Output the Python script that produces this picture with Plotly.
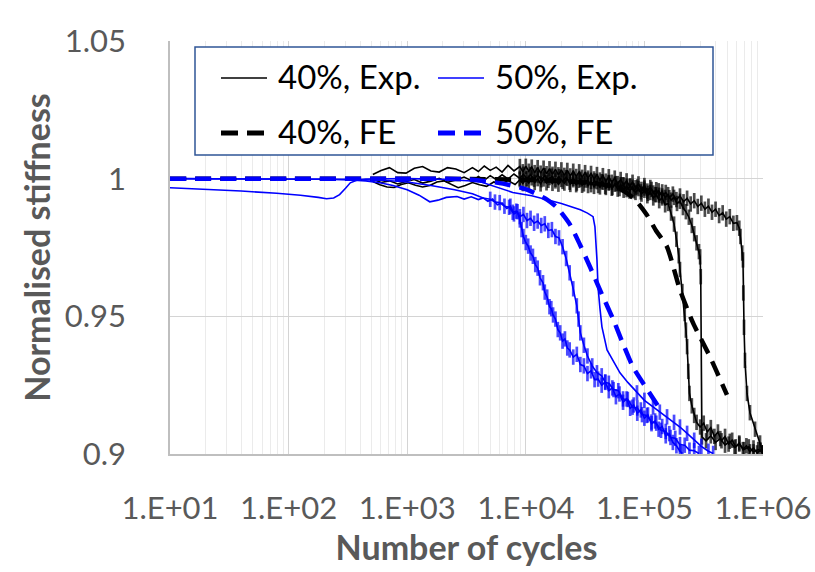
import plotly.graph_objects as go

# ---------------- data (log10 of number of cycles, normalised stiffness) ----------------
# 40% load level, experiments (black)
exp40_a_logn = [2.71, 2.77, 2.83, 2.89, 2.95, 3.01, 3.07, 3.13, 3.19, 3.25, 3.31, 3.37, 3.43, 3.49, 3.55, 3.61,
                3.67, 3.73, 3.79, 3.85, 3.91, 3.95, 3.975, 4.00, 4.025, 4.05, 4.075, 4.10, 4.125, 4.15, 4.175,
                4.20, 4.225, 4.25, 4.275, 4.30, 4.325, 4.35, 4.375, 4.40, 4.425, 4.45, 4.475, 4.50, 4.525, 4.55,
                4.575, 4.60, 4.625, 4.65, 4.675, 4.70, 4.725, 4.75, 4.775, 4.80, 4.825, 4.85, 4.875, 4.90, 4.925,
                4.95, 4.975, 5.00, 5.025, 5.05, 5.075, 5.10, 5.125, 5.15, 5.175, 5.20, 5.225, 5.25, 5.27, 5.29,
                5.30, 5.32, 5.34, 5.35, 5.36, 5.37, 5.38, 5.40, 5.42, 5.44, 5.47, 5.50, 5.53, 5.56, 5.59, 5.62,
                5.65, 5.68, 5.71, 5.74, 5.77, 5.80, 5.83, 5.86, 5.89, 5.92, 5.95, 5.98, 6.00]
exp40_a_val = [0.9990, 0.9978, 0.9970, 0.9968, 0.9979, 0.9985, 0.9976, 0.9970, 0.9975, 0.9988, 0.9992, 0.9980,
               0.9967, 0.9975, 0.9986, 0.9978, 0.9972, 0.9988, 0.9980, 0.9993, 0.9979, 0.9996, 0.9982, 0.9998,
               0.9984, 1.0003, 0.9986, 1.0000, 0.9981, 0.9999, 0.9985, 1.0004, 0.9983, 0.9998, 0.9980, 0.9997,
               0.9984, 1.0001, 0.9979, 0.9996, 0.9978, 0.9994, 0.9976, 0.9995, 0.9975, 0.9990, 0.9972, 0.9989,
               0.9970, 0.9987, 0.9968, 0.9984, 0.9965, 0.9980, 0.9962, 0.9978, 0.9958, 0.9973, 0.9955, 0.9969,
               0.9950, 0.9964, 0.9944, 0.9958, 0.9938, 0.9950, 0.9930, 0.9942, 0.9920, 0.9930, 0.9905, 0.9910,
               0.9875, 0.9835, 0.9780, 0.9720, 0.9670, 0.9590, 0.9510, 0.9450, 0.9390, 0.9300, 0.9220, 0.9175,
               0.9140, 0.9115, 0.9098, 0.9112, 0.9080, 0.9096, 0.9064, 0.9080, 0.9048, 0.9064, 0.9036, 0.9050,
               0.9026, 0.9040, 0.9016, 0.9030, 0.9008, 0.9022, 0.9004, 0.9014, 0.9002]

exp40_b_logn = [2.71, 2.78, 2.85, 2.92, 2.99, 3.06, 3.13, 3.20, 3.27, 3.34, 3.41, 3.48, 3.55, 3.60, 3.65, 3.70,
                3.75, 3.80, 3.85, 3.90, 3.95, 3.975, 4.00, 4.025, 4.05, 4.075, 4.10, 4.125, 4.15, 4.175, 4.20,
                4.225, 4.25, 4.275, 4.30, 4.325, 4.35, 4.375, 4.40, 4.425, 4.45, 4.475, 4.50, 4.525, 4.55, 4.575,
                4.60, 4.625, 4.65, 4.675, 4.70, 4.725, 4.75, 4.775, 4.80, 4.825, 4.85, 4.875, 4.90, 4.925, 4.95,
                4.975, 5.00, 5.025, 5.05, 5.075, 5.10, 5.125, 5.15, 5.175, 5.20, 5.225, 5.25, 5.275, 5.30, 5.325,
                5.35, 5.375, 5.40, 5.42, 5.44, 5.46, 5.47, 5.475, 5.485, 5.52, 5.56, 5.60, 5.64, 5.68, 5.72, 5.76,
                5.80, 5.84, 5.88, 5.92, 5.96, 6.00]
exp40_b_val = [1.0015, 1.0030, 1.0040, 1.0022, 1.0020, 1.0038, 1.0044, 1.0028, 1.0024, 1.0040, 1.0035, 1.0022,
               1.0040, 1.0026, 1.0046, 1.0030, 1.0042, 1.0024, 1.0048, 1.0028, 1.0044, 1.0025, 1.0045, 1.0027,
               1.0042, 1.0022, 1.0040, 1.0020, 1.0038, 1.0018, 1.0036, 1.0016, 1.0034, 1.0014, 1.0032, 1.0012,
               1.0030, 1.0010, 1.0027, 1.0008, 1.0025, 1.0005, 1.0022, 1.0002, 1.0019, 0.9999, 1.0015, 0.9995,
               1.0011, 0.9991, 1.0007, 0.9987, 1.0002, 0.9982, 0.9997, 0.9977, 0.9992, 0.9972, 0.9987, 0.9967,
               0.9981, 0.9961, 0.9975, 0.9955, 0.9968, 0.9948, 0.9960, 0.9940, 0.9952, 0.9932, 0.9942, 0.9922,
               0.9932, 0.9910, 0.9918, 0.9895, 0.9880, 0.9860, 0.9830, 0.9800, 0.9767, 0.9735, 0.9716, 0.9644,
               0.9062, 0.9048, 0.9066, 0.9042, 0.9056, 0.9032, 0.9046, 0.9024, 0.9036, 0.9016, 0.9026, 0.9008,
               0.9016, 0.9005]

exp40_c_logn = [2.71, 2.78, 2.85, 2.92, 2.99, 3.06, 3.13, 3.20, 3.27, 3.34, 3.41, 3.48, 3.55, 3.60, 3.65, 3.70,
                3.75, 3.80, 3.85, 3.90, 3.95, 3.98, 4.01, 4.04, 4.07, 4.10, 4.13, 4.16, 4.19, 4.22, 4.25, 4.28,
                4.31, 4.34, 4.37, 4.40, 4.43, 4.46, 4.49, 4.52, 4.55, 4.58, 4.61, 4.64, 4.67, 4.70, 4.73, 4.76,
                4.79, 4.82, 4.85, 4.88, 4.91, 4.94, 4.97, 5.00, 5.03, 5.06, 5.09, 5.12, 5.15, 5.18, 5.21, 5.24,
                5.27, 5.30, 5.33, 5.36, 5.39, 5.42, 5.45, 5.48, 5.51, 5.54, 5.57, 5.60, 5.63, 5.66, 5.69, 5.72,
                5.75, 5.78, 5.80, 5.81, 5.825, 5.831, 5.834, 5.840, 5.848, 5.865, 5.890, 5.933, 5.975, 6.00]
exp40_c_val = [0.9998, 0.9986, 0.9992, 0.9981, 0.9990, 0.9997, 0.9984, 0.9991, 1.0001, 0.9987, 0.9995, 1.0006,
               0.9991, 1.0008, 0.9994, 1.0011, 0.9997, 1.0014, 0.9999, 1.0017, 1.0001, 1.0016, 1.0000, 1.0015,
               0.9998, 1.0013, 0.9996, 1.0011, 0.9994, 1.0009, 0.9992, 1.0007, 0.9990, 1.0004, 0.9987, 1.0001,
               0.9984, 0.9998, 0.9981, 0.9995, 0.9978, 0.9992, 0.9975, 0.9989, 0.9972, 0.9986, 0.9968, 0.9982,
               0.9964, 0.9978, 0.9960, 0.9974, 0.9956, 0.9970, 0.9952, 0.9966, 0.9947, 0.9961, 0.9942, 0.9956,
               0.9937, 0.9950, 0.9931, 0.9944, 0.9924, 0.9937, 0.9916, 0.9929, 0.9908, 0.9920, 0.9899, 0.9911,
               0.9889, 0.9900, 0.9878, 0.9889, 0.9866, 0.9876, 0.9853, 0.9862, 0.9838, 0.9840, 0.9820, 0.9790,
               0.9730, 0.9705, 0.9585, 0.9460, 0.9340, 0.9220, 0.9150, 0.9090, 0.9040, 0.9005]

# 50% load level, experiments (blue)
exp50_a_logn = [1.00, 1.50, 2.00, 2.30, 2.52, 2.65, 2.77, 2.88, 3.00, 3.10, 3.19, 3.26, 3.33, 3.42, 3.48, 3.54,
                3.60, 3.64, 3.68, 3.72, 3.76, 3.80, 3.84, 3.87, 3.90, 3.93, 3.95, 3.965, 3.98, 4.00, 4.02, 4.04,
                4.06, 4.08, 4.10, 4.12, 4.145, 4.16, 4.18, 4.20, 4.215, 4.23, 4.25, 4.27, 4.29, 4.31, 4.33, 4.35,
                4.37, 4.40, 4.43, 4.46, 4.49, 4.52, 4.55, 4.58, 4.61, 4.64, 4.67, 4.70, 4.73, 4.76, 4.79, 4.82,
                4.85, 4.88, 4.91, 4.94, 4.97, 5.00, 5.03, 5.06, 5.09, 5.12, 5.15, 5.18, 5.21, 5.24, 5.27, 5.30,
                5.32]
exp50_a_val = [1.0000, 1.0000, 1.0000, 0.9998, 0.9995, 0.9992, 0.9985, 0.9975, 0.9960, 0.9940, 0.9916, 0.9922,
               0.9932, 0.9935, 0.9926, 0.9934, 0.9924, 0.9930, 0.9918, 0.9926, 0.9905, 0.9912, 0.9892, 0.9900,
               0.9872, 0.9880, 0.9850, 0.9815, 0.9790, 0.9768, 0.9755, 0.9730, 0.9718, 0.9688, 0.9675, 0.9640,
               0.9622, 0.9588, 0.9570, 0.9535, 0.9528, 0.9505, 0.9490, 0.9452, 0.9440, 0.9410, 0.9418, 0.9385,
               0.9378, 0.9352, 0.9362, 0.9325, 0.9320, 0.9292, 0.9302, 0.9270, 0.9272, 0.9250, 0.9262, 0.9230,
               0.9240, 0.9208, 0.9218, 0.9188, 0.9200, 0.9166, 0.9178, 0.9148, 0.9160, 0.9130, 0.9142, 0.9110,
               0.9120, 0.9090, 0.9100, 0.9066, 0.9074, 0.9042, 0.9030, 0.9010, 0.9002]

exp50_b_logn = [1.00, 2.00, 2.50, 2.80, 3.00, 3.20, 3.40, 3.55, 3.64, 3.70, 3.74, 3.78, 3.82, 3.86, 3.89, 3.92,
                3.95, 3.98, 4.01, 4.04, 4.07, 4.10, 4.13, 4.16, 4.19, 4.22, 4.25, 4.28, 4.31, 4.34, 4.37, 4.40,
                4.43, 4.445, 4.46, 4.49, 4.52, 4.56, 4.60, 4.64, 4.67, 4.70, 4.74, 4.78, 4.82, 4.86, 4.90, 4.94,
                4.98, 5.02, 5.06, 5.10, 5.14, 5.18, 5.22, 5.26, 5.30, 5.34, 5.38, 5.42, 5.46]
exp50_b_val = [1.0000, 1.0000, 0.9998, 0.9994, 0.9988, 0.9975, 0.9960, 0.9945, 0.9930, 0.9925, 0.9915, 0.9913,
               0.9900, 0.9896, 0.9878, 0.9882, 0.9862, 0.9870, 0.9848, 0.9856, 0.9838, 0.9846, 0.9830, 0.9836,
               0.9812, 0.9815, 0.9790, 0.9785, 0.9753, 0.9710, 0.9658, 0.9600, 0.9538, 0.9490, 0.9440, 0.9395,
               0.9356, 0.9320, 0.9295, 0.9284, 0.9260, 0.9257, 0.9234, 0.9230, 0.9200, 0.9198, 0.9170, 0.9167,
               0.9143, 0.9140, 0.9116, 0.9112, 0.9086, 0.9082, 0.9060, 0.9057, 0.9034, 0.9032, 0.9014, 0.9012,
               0.9002]

exp50_c_logn = [1.00, 1.30, 1.60, 1.90, 2.10, 2.25, 2.32, 2.38, 2.43, 2.48, 2.52, 2.58, 2.65, 3.00, 3.30, 3.61,
                3.75, 3.89, 4.05, 4.18, 4.30, 4.46, 4.52, 4.567, 4.583, 4.600, 4.609, 4.625, 4.642, 4.685, 4.74,
                4.794, 4.86, 4.937, 5.00, 5.073, 5.13, 5.191, 5.25, 5.30, 5.36, 5.42, 5.48, 5.54, 5.58]
exp50_c_val = [0.9967, 0.9962, 0.9955, 0.9947, 0.9940, 0.9932, 0.9927, 0.9930, 0.9942, 0.9965, 0.9985, 0.9995,
               0.9999, 1.0000, 0.9998, 0.9990, 0.9970, 0.9950, 0.9938, 0.9924, 0.9910, 0.9887, 0.9875, 0.9862,
               0.9825, 0.9705, 0.9607, 0.9530, 0.9462, 0.9378, 0.9335, 0.9295, 0.9260, 0.9222, 0.9195, 0.9171,
               0.9152, 0.9135, 0.9115, 0.9098, 0.9075, 0.9050, 0.9028, 0.9010, 0.9002]

# finite-element predictions
fe40_logn = [1.0, 2.0, 3.0, 3.5, 4.0, 4.3, 4.6, 4.8, 4.92, 5.02, 5.10, 5.19, 5.30, 5.41, 5.553, 5.696]
fe40_val = [1.0, 1.0, 1.0, 0.9999, 0.9996, 0.9991, 0.9982, 0.9962, 0.9925, 0.9869, 0.9810, 0.9753, 0.9596,
            0.9476, 0.9353, 0.9215]

fe50_logn = [1.0, 2.0, 3.0, 3.5, 3.808, 4.010, 4.179, 4.263, 4.373, 4.457, 4.541, 4.651, 4.735, 4.820, 4.904,
             5.022, 5.131]
fe50_val = [1.0, 1.0, 1.0, 0.9998, 0.9982, 0.9960, 0.9924, 0.9895, 0.9833, 0.9760, 0.9680, 0.9571, 0.9491,
            0.9400, 0.9316, 0.9236, 0.9164]

x_tick_vals = [1e1, 1e2, 1e3, 1e4, 1e5, 1e6]
x_tick_text = ["1.E+01", "1.E+02", "1.E+03", "1.E+04", "1.E+05", "1.E+06"]
y_tick_vals = [0.9, 0.95, 1.0, 1.05]
y_tick_text = ["0.9", "0.95", "1", "1.05"]
legend_labels = ["40%, Exp.", "50%, Exp.", "40%, FE", "50%, FE"]


def cycles(logn):
    return [10 ** v for v in logn]


BLACK = "#000000"
BLUE = "#0000FF"
GREY = "#595959"
FONT = "Lato"
FE_DASH = "16px,9px"

fig = go.Figure()

# (data, colour, log10 N above which the record is dense and drawn with point markers, marker size)
exp_curves = [
    (exp40_a_logn, exp40_a_val, BLACK, 3.95, 11, legend_labels[0]),
    (exp40_b_logn, exp40_b_val, BLACK, 3.95, 11, legend_labels[0]),
    (exp40_c_logn, exp40_c_val, BLACK, 3.95, 11, legend_labels[0]),
    (exp50_a_logn, exp50_a_val, BLUE, 3.85, 11, legend_labels[1]),
    (exp50_b_logn, exp50_b_val, BLUE, 3.70, 11, legend_labels[1]),
    (exp50_c_logn, exp50_c_val, BLUE, 4.90, 11, legend_labels[1]),
]
for lx, vy, col, dense_from, msize, name in exp_curves:
    sizes = [msize if v >= dense_from else 0 for v in lx]
    fig.add_trace(go.Scatter(
        x=cycles(lx), y=vy, mode="lines+markers", name=name, showlegend=False,
        line=dict(color=col, width=1.6),
        marker=dict(symbol="line-ns", size=sizes, color=col, line=dict(color=col, width=2.7)),
    ))

fig.add_trace(go.Scatter(x=cycles(fe40_logn), y=fe40_val, mode="lines", name=legend_labels[2], showlegend=False,
                         line=dict(color=BLACK, width=4.5, dash=FE_DASH, shape="spline", smoothing=0.6)))
fig.add_trace(go.Scatter(x=cycles(fe50_logn), y=fe50_val, mode="lines", name=legend_labels[3], showlegend=False,
                         line=dict(color=BLUE, width=4.5, dash=FE_DASH, shape="spline", smoothing=0.6)))

minor_vals = [k * 10 ** d for d in range(1, 6) for k in range(2, 10)]

# ---- legend box (drawn in paper coordinates, like the boxed legend of the original) ----
PLOT_L, PLOT_R, PLOT_T, PLOT_B = 170, 763, 41, 454


def px(xp):
    return (xp - PLOT_L) / (PLOT_R - PLOT_L)


def py(yp):
    return (PLOT_B - yp) / (PLOT_B - PLOT_T)


shapes = [dict(type="rect", xref="paper", yref="paper", x0=px(195), x1=px(713), y0=py(155), y1=py(47),
               line=dict(color="#2F5597", width=1.5), fillcolor="white", layer="above")]
annotations = []
legend_items = [
    (legend_labels[0], BLACK, "solid", 1.6, 221, 78),
    (legend_labels[1], BLUE, "solid", 1.6, 438, 78),
    (legend_labels[2], BLACK, "17px,9px", 5, 221, 133),
    (legend_labels[3], BLUE, "17px,9px", 5, 438, 133),
]
for label, col, dash, w, x0, yc in legend_items:
    shapes.append(dict(type="line", xref="paper", yref="paper", x0=px(x0), x1=px(x0 + 46), y0=py(yc), y1=py(yc),
                       line=dict(color=col, width=w, dash=dash), layer="above"))
    annotations.append(dict(xref="paper", yref="paper", x=px(x0 + 55), y=py(yc - 2), xanchor="left", yanchor="middle",
                            text=label, showarrow=False, font=dict(family=FONT, size=33, color="black")))

fig.update_layout(
    width=815, height=572,
    margin=dict(l=PLOT_L, r=815 - PLOT_R, t=PLOT_T, b=572 - PLOT_B),
    paper_bgcolor="white", plot_bgcolor="white",
    font=dict(family=FONT, color=GREY),
    showlegend=False,
    shapes=shapes, annotations=annotations,
    xaxis=dict(
        type="log", range=[1, 6], automargin=False,
        tickmode="array", tickvals=x_tick_vals, ticktext=x_tick_text,
        tickfont=dict(family=FONT, size=31, color=GREY),
        ticks="", ticklabelstandoff=26,
        showgrid=True, gridcolor="#d4d4d4", gridwidth=1,
        minor=dict(tickmode="array", tickvals=minor_vals, showgrid=True, gridcolor="#ebebeb", gridwidth=1, ticks=""),
        showline=True, linecolor="#bfbfbf", linewidth=1.5,
        zeroline=False,
        title=dict(text="Number of cycles", font=dict(family=FONT, size=34, color=GREY, weight="bold"), standoff=10),
    ),
    yaxis=dict(
        range=[0.9, 1.05], automargin=False,
        tickmode="array", tickvals=y_tick_vals, ticktext=y_tick_text,
        tickfont=dict(family=FONT, size=31, color=GREY),
        ticks="", ticklabelstandoff=36,
        showgrid=True, gridcolor="#d4d4d4", gridwidth=1,
        showline=True, linecolor="#bfbfbf", linewidth=1.5,
        zeroline=False,
        title=dict(text="Normalised stiffness", font=dict(family=FONT, size=34, color=GREY, weight="bold"), standoff=4),
    ),
)

fig.write_html("out.html")
